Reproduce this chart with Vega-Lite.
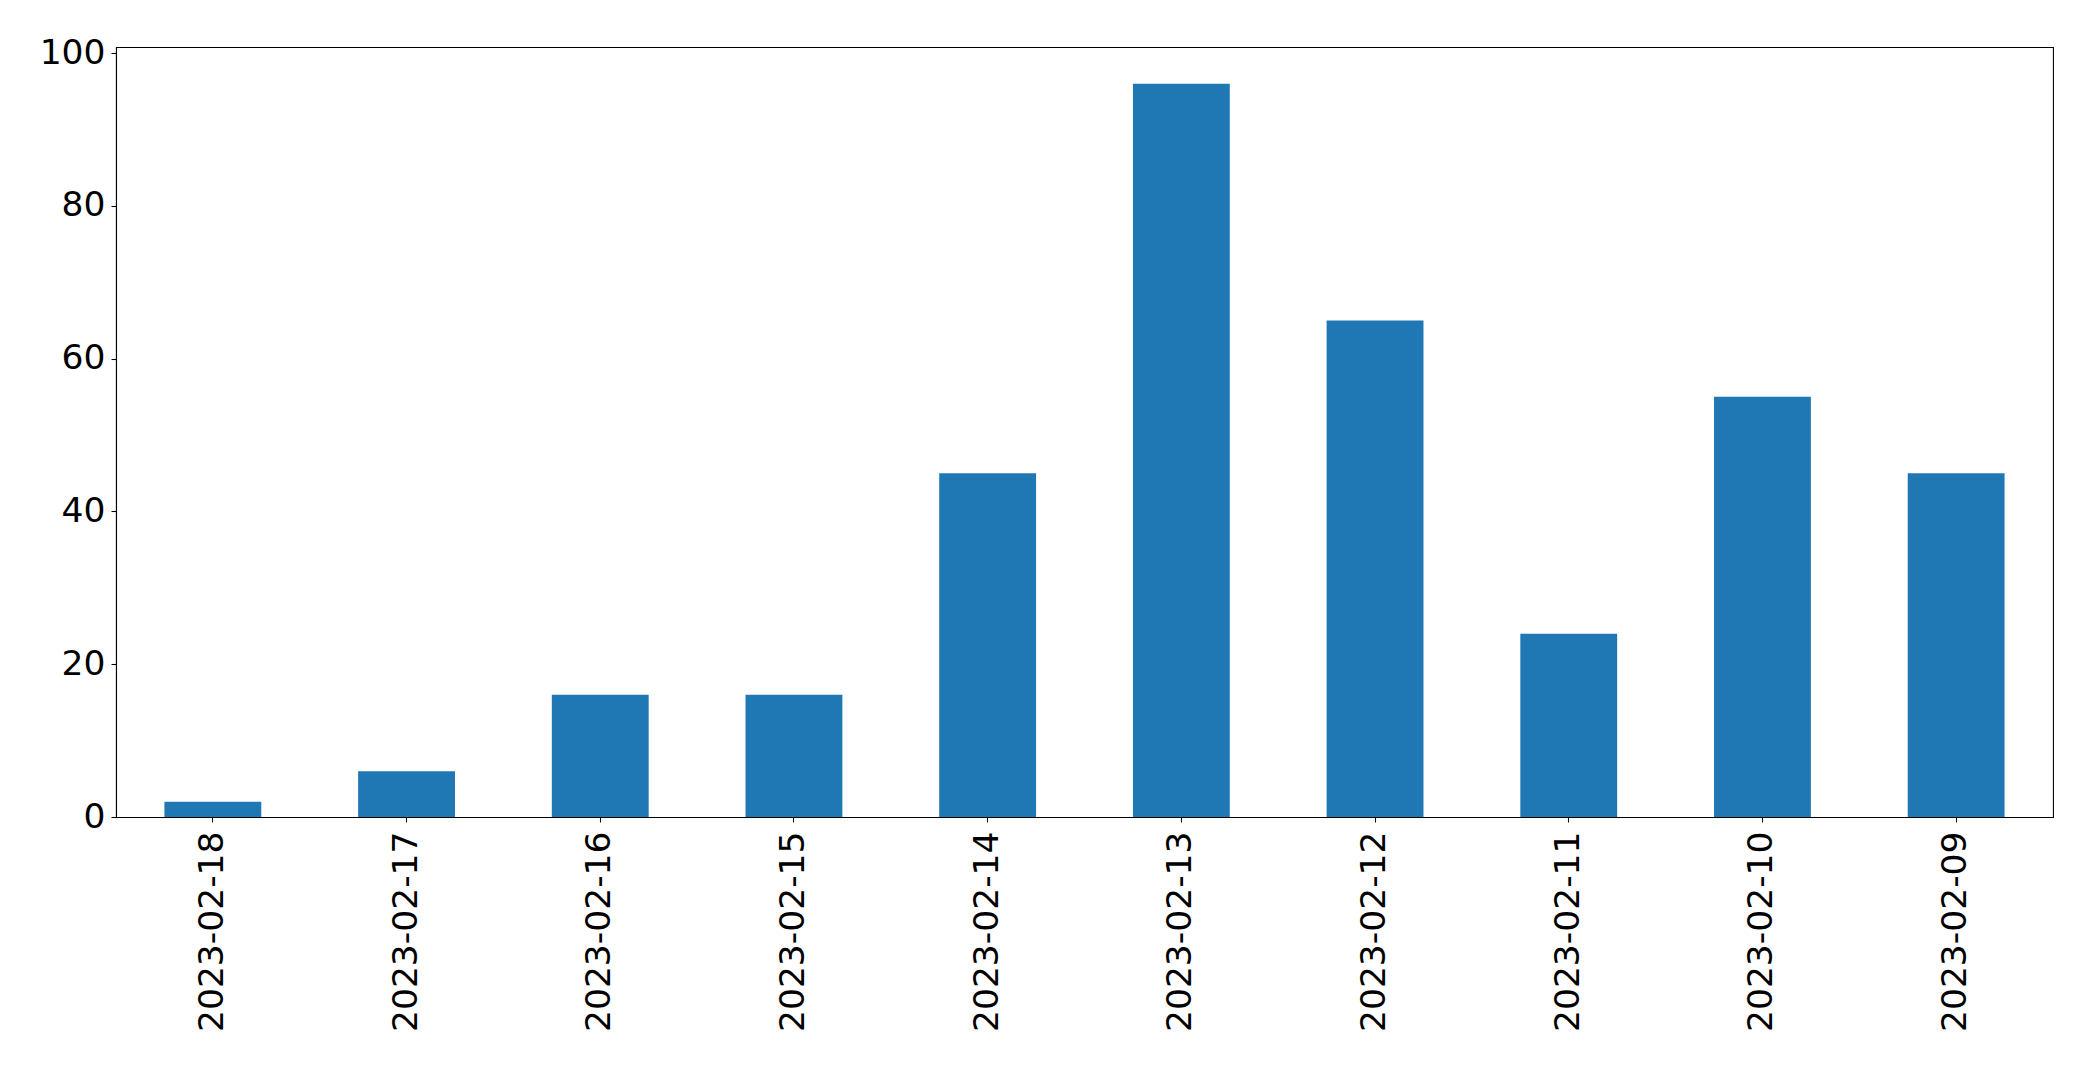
{
  "$schema": "https://vega.github.io/schema/vega-lite/v6.json",
  "width": 1937,
  "height": 770,
  "autosize": {"type": "none"},
  "padding": {"left": 116, "top": 47, "right": 40, "bottom": 252},
  "background": "white",
  "config": {
    "view": {"stroke": "black", "strokeWidth": 1.07},
    "font": "DejaVu Sans",
    "axis": {
      "domainColor": "black",
      "domainWidth": 1.07,
      "tickColor": "black",
      "tickWidth": 1.07,
      "tickSize": 5,
      "labelFont": "DejaVu Sans",
      "labelFontSize": 34.5,
      "labelColor": "black",
      "labelLimit": 0,
      "grid": false,
      "title": null
    }
  },
  "data": {
    "values": [
      {"date": "2023-02-18", "count": 2},
      {"date": "2023-02-17", "count": 6},
      {"date": "2023-02-16", "count": 16},
      {"date": "2023-02-15", "count": 16},
      {"date": "2023-02-14", "count": 45},
      {"date": "2023-02-13", "count": 96},
      {"date": "2023-02-12", "count": 65},
      {"date": "2023-02-11", "count": 24},
      {"date": "2023-02-10", "count": 55},
      {"date": "2023-02-09", "count": 45}
    ]
  },
  "mark": {"type": "bar", "color": "#1f77b4"},
  "encoding": {
    "x": {
      "field": "date",
      "type": "nominal",
      "sort": null,
      "scale": {"paddingInner": 0.5, "paddingOuter": 0.25},
      "axis": {"labelAngle": -90, "labelPadding": 9, "title": null}
    },
    "y": {
      "field": "count",
      "type": "quantitative",
      "scale": {"domain": [0, 100.8], "nice": false, "zero": true},
      "axis": {"values": [0, 20, 40, 60, 80, 100], "labelPadding": 6, "title": null}
    }
  }
}
